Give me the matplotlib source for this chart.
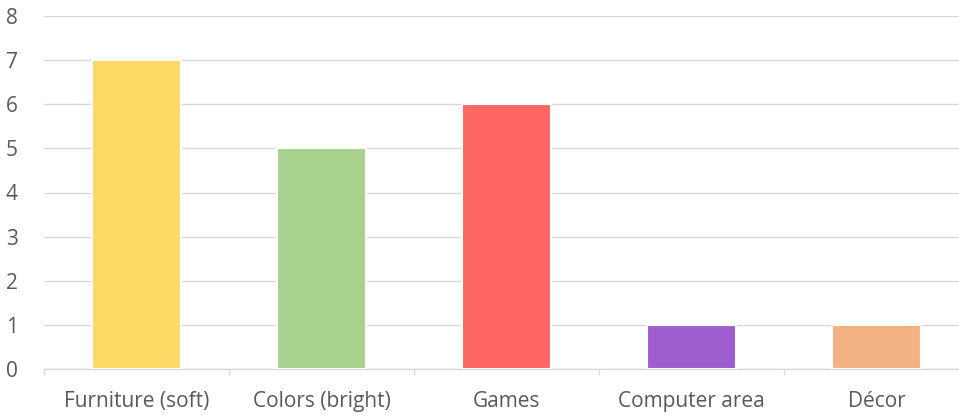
import matplotlib.pyplot as plt

categories = ["Furniture (soft)", "Colors (bright)", "Games", "Computer area", "Décor"]
values = [7, 5, 6, 1, 1]
colors = ["#FFD966", "#A9D18E", "#FF6666", "#9E5ECE", "#F4B183"]

plt.rcParams["font.family"] = ["Open Sans", "DejaVu Sans"]

fig = plt.figure(figsize=(9.59, 4.18), dpi=100)
ax = fig.add_axes([44 / 959, 1 - 369 / 418, 925 / 959, 353 / 418])

x = range(len(categories))
ax.bar(x, values, width=0.48, color=colors, edgecolor="white", linewidth=1.5, zorder=3)

ax.set_xlim(-0.5, len(categories) - 0.5)
ax.set_ylim(0, 8)
ax.set_yticks(range(0, 9))
ax.yaxis.grid(True, color="#D9D9D9", linewidth=1.0, zorder=0)
ax.set_axisbelow(True)

ax.set_xticks(x)
ax.set_xticklabels(categories)
# separators between categories
ax.set_xticks([i - 0.5 for i in range(len(categories) + 1)], minor=True)
ax.tick_params(axis="x", which="major", length=0, pad=16, labelsize=15, labelcolor="#595959")
ax.tick_params(axis="x", which="minor", length=4.5, color="#D9D9D9", width=1.0)
ax.tick_params(axis="y", length=0, pad=19, labelsize=15, labelcolor="#595959")

for s in ["top", "right", "left"]:
    ax.spines[s].set_visible(False)
ax.spines["bottom"].set_color("#D9D9D9")
ax.spines["bottom"].set_linewidth(1.0)

fig.savefig("out.png", dpi=100)
